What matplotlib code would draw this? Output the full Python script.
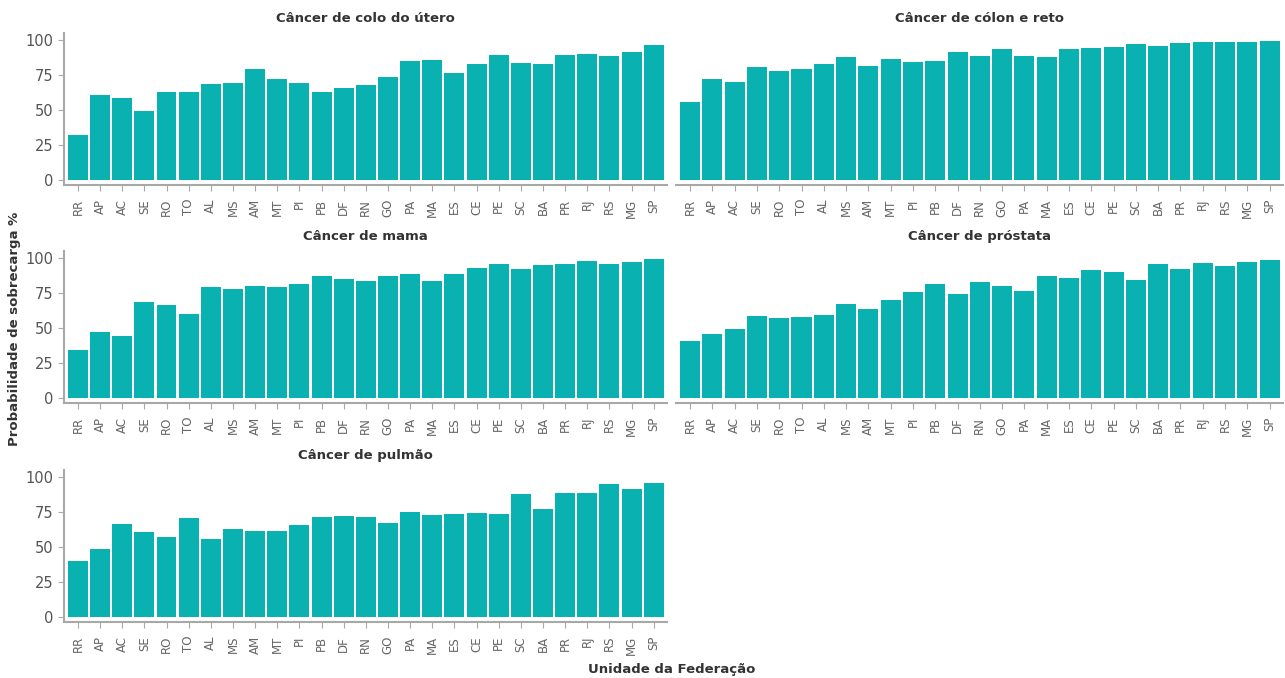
import matplotlib.pyplot as plt

estados = ["RR", "AP", "AC", "SE", "RO", "TO", "AL", "MS", "AM", "MT", "PI", "PB", "DF", "RN",
           "GO", "PA", "MA", "ES", "CE", "PE", "SC", "BA", "PR", "RJ", "RS", "MG", "SP"]

colo_utero = [31.8, 60.5, 58.4, 49.0, 62.7, 62.7, 68.4, 69.1, 79.2, 72.0, 69.1, 62.7, 65.6, 67.7,
              73.4, 84.9, 85.6, 76.3, 82.8, 89.2, 83.5, 82.8, 89.2, 90.0, 88.5, 91.4, 96.4]
colon_reto = [55.5, 72.0, 69.9, 80.6, 77.8, 79.2, 82.8, 87.8, 81.3, 86.4, 84.2, 84.9, 91.4, 88.5,
              93.5, 88.5, 87.8, 93.5, 94.3, 95.0, 97.1, 95.7, 97.8, 98.6, 98.6, 98.6, 99.3]
mama = [34.5, 46.8, 44.6, 68.3, 66.2, 59.7, 79.1, 77.7, 79.9, 79.1, 81.3, 87.0, 84.9, 83.5,
        87.0, 88.5, 83.5, 88.5, 92.8, 95.7, 92.1, 95.0, 95.7, 97.8, 95.7, 97.1, 99.3]
prostata = [41.0, 46.0, 49.6, 58.3, 56.8, 57.6, 59.0, 66.9, 63.3, 69.8, 75.5, 81.3, 74.1, 82.7,
            79.9, 76.3, 87.0, 85.6, 91.4, 89.9, 84.2, 95.7, 92.1, 96.4, 94.2, 97.1, 98.6]
pulmao = [39.9, 48.4, 66.3, 60.6, 57.0, 70.6, 55.6, 62.8, 61.3, 61.3, 65.6, 71.4, 72.1, 71.4,
          67.1, 74.9, 72.8, 73.5, 74.2, 73.5, 87.8, 77.1, 88.5, 88.5, 95.0, 91.4, 95.7]

titulos = ["Câncer de colo do útero", "Câncer de cólon e reto", "Câncer de mama",
           "Câncer de próstata", "Câncer de pulmão"]
series = [colo_utero, colon_reto, mama, prostata, pulmao]

plt.rcParams['font.family'] = ['DejaVu Sans']

cor = '#0ab1b1'
cinza = '#a8a8a8'

fig = plt.figure(figsize=(12.85, 6.78), dpi=100)

H = 1285
V = 678
# (esquerda px, direita px, eixo inferior px)
posicoes = [(64, 667, 185), (676, 1283, 185), (64, 667, 403), (676, 1283, 403), (64, 667, 622)]

for i, (titulo, vals) in enumerate(zip(titulos, series)):
    l, r, b = posicoes[i]
    ax = fig.add_axes([l / H, 1 - b / V, (r - l) / H, 152 / V])
    x = range(len(estados))
    ax.bar(x, vals, width=0.9, color=cor)
    ax.set_xlim(-0.63, 26.6)
    ax.set_ylim(-3.6, 105)
    ax.set_xticks(list(x))
    ax.set_xticklabels(estados, rotation=90, fontsize=8.5, color='#666666')
    ax.set_title(titulo, fontsize=9.5, fontweight='bold', color='#333333', pad=8)
    for s in ['top', 'right']:
        ax.spines[s].set_visible(False)
    ax.spines['bottom'].set_color(cinza)
    ax.spines['bottom'].set_linewidth(1.5)
    if i % 2 == 0:
        ax.spines['left'].set_color(cinza)
        ax.spines['left'].set_linewidth(1.5)
        ax.set_yticks([0, 25, 50, 75, 100])
        ax.tick_params(axis='y', labelsize=10.5, colors='#555555', length=4, color=cinza)
    else:
        ax.spines['left'].set_visible(False)
        ax.set_yticks([])
    ax.tick_params(axis='x', length=4, color=cinza, pad=6)

fig.text(0.011, 0.515, "Probabilidade de sobrecarga %", rotation=90, ha='center', va='center',
         fontsize=9.5, fontweight='bold', color='#333333')
fig.text(0.523, 0.012, "Unidade da Federação", ha='center', va='center',
         fontsize=9.5, fontweight='bold', color='#333333')

fig.savefig("out.png", dpi=100)
